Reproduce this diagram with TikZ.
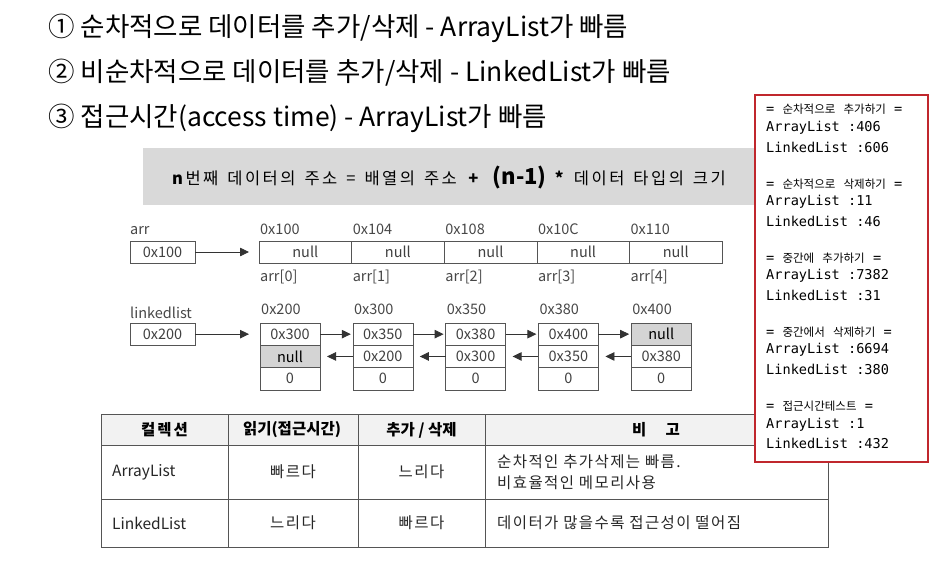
\documentclass[tikz,border=0pt]{standalone}
\usepackage{fontspec}
\setmainfont{Noto Sans CJK KR}
\newfontfamily\consolefont{DejaVu Sans Mono}
\newfontfamily\korfont{Noto Sans CJK KR}
\usetikzlibrary{positioning,arrows.meta}

\definecolor{bandgray}{HTML}{D9D9D9}
\definecolor{headgray}{HTML}{F2F2F2}
\definecolor{nullgray}{HTML}{D4D4D4}
\definecolor{linegray}{HTML}{555555}
\definecolor{consolered}{HTML}{C0272D}

% korean words inside the console lines
\newcommand\kor[1]{{\korfont\fontsize{11.5}{11.5}\selectfont #1}}

\tikzset{
  headline/.style={anchor=west, inner sep=0pt, font=\fontsize{26.5}{26.5}\selectfont},
  formula/.style={inner sep=0pt, font=\fontsize{16.5}{17}\selectfont\addfontfeature{LetterSpace=15}},
  cell/.style={rectangle, draw=linegray, minimum width=92.6pt, minimum height=22pt, inner sep=0pt, outer sep=0pt, font=\fontsize{14.5}{14.5}\selectfont, text=black!75},
  ptr/.style={cell, minimum width=65pt},
  slot/.style={cell, minimum width=60pt, minimum height=22.3pt},
  nullslot/.style={slot, fill=nullgray, text=black},
  addr/.style={inner sep=0pt, font=\fontsize{14.5}{14.5}\selectfont, text=black!72},
  link/.style={-{Triangle[length=9pt,width=8.5pt]}, draw=black!80, line width=0.8pt},
  grid/.style={draw=linegray, line width=0.9pt},
  tabtext/.style={inner sep=0pt, font=\fontsize{15.5}{20}\selectfont, text=black!85},
  spaced/.style={tabtext, font=\fontsize{15.5}{21}\selectfont\addfontfeature{LetterSpace=9}},
  tabhead/.style={tabtext, font=\fontsize{15.5}{15.5}\selectfont\bfseries, text=black},
  console/.style={rectangle, draw=consolered, line width=1.1pt, fill=white, minimum width=173pt, minimum height=367pt, inner sep=0pt},
  logline/.style={anchor=west, inner sep=0pt, font=\consolefont\fontsize{13.6}{13.6}\selectfont},
}

\begin{document}
\begin{tikzpicture}[x=1pt, y=-1pt]
  \useasboundingbox (0,0) rectangle (951,560);

  % three remarks on top
  \node[headline] (line1) at (48,28)  {① 순차적으로 데이터를 추가/삭제 - ArrayList가 빠름};
  \node[headline] (line2) at (48,73)  {② 비순차적으로 데이터를 추가/삭제 - LinkedList가 빠름};
  \node[headline] (line3) at (48,118) {③ 접근시간(access time) - ArrayList가 빠름};

  % address rule
  \fill[bandgray] (143,148) rectangle (770,205);
  \node[formula] (rule) at (449,178) {\textbf{n}번째\hspace{9pt}데이터의\hspace{9pt}주소\hspace{9pt}=\hspace{9pt}배열의\hspace{9pt}주소\hspace{9pt}\textbf{+}\hspace{12pt}{\fontsize{22}{22}\selectfont\bfseries\addfontfeature{LetterSpace=0}(n-1)}\hspace{8pt}\textbf{*}\hspace{8pt}데이터\hspace{9pt}타입의\hspace{9pt}크기};

  % array
  \node[ptr] (arr) at (162.5,252) {0x100};
  \node[addr, above right=6pt and 0pt of arr.north west] (arrname) {arr};
  \node[cell] (a0) at (305.3,252) {null};
  \node[cell, right=0pt of a0] (a1) {null};
  \node[cell, right=0pt of a1] (a2) {null};
  \node[cell, right=0pt of a2] (a3) {null};
  \node[cell, right=0pt of a3] (a4) {null};
  \node[addr, above right=6pt and 1pt of a0.north west] (a0addr) {0x100};
  \node[addr, above right=6pt and 1pt of a1.north west] (a1addr) {0x104};
  \node[addr, above right=6pt and 1pt of a2.north west] (a2addr) {0x108};
  \node[addr, above right=6pt and 1pt of a3.north west] (a3addr) {0x10C};
  \node[addr, above right=6pt and 1pt of a4.north west] (a4addr) {0x110};
  \node[addr, below right=7pt and 1pt of a0.south west] (a0idx) {arr[0]};
  \node[addr, below right=7pt and 1pt of a1.south west] (a1idx) {arr[1]};
  \node[addr, below right=7pt and 1pt of a2.south west] (a2idx) {arr[2]};
  \node[addr, below right=7pt and 1pt of a3.south west] (a3idx) {arr[3]};
  \node[addr, below right=7pt and 1pt of a4.south west] (a4idx) {arr[4]};
  \draw[link, shorten >=10pt] (arr) -- (a0);

  % linked list
  \node[ptr, minimum height=22.3pt] (head) at (162.5,334.15) {0x200};
  \node[addr, above right=4pt and 0pt of head.north west] (headname) {linkedlist};

  \node[slot] (n0next) at (290,334.15) {0x300};
  \node[nullslot, below=0pt of n0next] (n0prev) {null};
  \node[slot, below=0pt of n0prev] (n0val) {0};
  \node[slot, right=32.8pt of n0next] (n1next) {0x350};
  \node[slot, below=0pt of n1next] (n1prev) {0x200};
  \node[slot, below=0pt of n1prev] (n1val) {0};
  \node[slot, right=32.8pt of n1next] (n2next) {0x380};
  \node[slot, below=0pt of n2next] (n2prev) {0x300};
  \node[slot, below=0pt of n2prev] (n2val) {0};
  \node[slot, right=32.8pt of n2next] (n3next) {0x400};
  \node[slot, below=0pt of n3next] (n3prev) {0x350};
  \node[slot, below=0pt of n3prev] (n3val) {0};
  \node[nullslot, right=32.8pt of n3next] (n4next) {null};
  \node[slot, below=0pt of n4next] (n4prev) {0x380};
  \node[slot, below=0pt of n4prev] (n4val) {0};

  \node[addr, above right=8pt and 1pt of n0next.north west] (n0addr) {0x200};
  \node[addr, above right=8pt and 1pt of n1next.north west] (n1addr) {0x300};
  \node[addr, above right=8pt and 1pt of n2next.north west] (n2addr) {0x350};
  \node[addr, above right=8pt and 1pt of n3next.north west] (n3addr) {0x380};
  \node[addr, above right=8pt and 1pt of n4next.north west] (n4addr) {0x400};

  \draw[link, shorten >=11pt] (head) -- (n0next);
  \draw[link, shorten >=2pt] (n0next) -- (n1next);
  \draw[link, shorten >=2pt] (n1next) -- (n2next);
  \draw[link, shorten >=2pt] (n2next) -- (n3next);
  \draw[link, shorten >=2pt] (n3next) -- (n4next);
  \draw[link, shorten >=7pt] (n1prev) -- (n0prev);
  \draw[link, shorten >=7pt] (n2prev) -- (n1prev);
  \draw[link, shorten >=7pt] (n3prev) -- (n2prev);
  \draw[link, shorten >=7pt] (n4prev) -- (n3prev);

  % comparison table
  \fill[headgray] (101,414) rectangle (828,445);
  \draw[grid] (101,414) rectangle (828,547);
  \draw[grid] (101,445) -- (828,445);
  \draw[grid] (101,499) -- (828,499);
  \draw[grid] (228,414) -- (228,547);
  \draw[grid] (358,414) -- (358,547);
  \draw[grid] (485,414) -- (485,547);

  \node[tabhead] (th1) at (164.5,430) {컬\hspace{2pt}렉\hspace{2pt}션};
  \node[tabhead] (th2) at (292,430)   {읽기(접근시간)};
  \node[tabhead] (th3) at (421.5,430) {추가 / 삭제};
  \node[tabhead] (th4) at (656,430)   {비 \quad 고};
  \node[tabtext, anchor=west] (r1c1) at (112,472) {ArrayList};
  \node[spaced] (r1c2) at (293,472)   {빠르다};
  \node[spaced] (r1c3) at (421.5,472) {느리다};
  \node[spaced, anchor=west, align=left] (r1c4) at (497,472) {순차적인 추가삭제는 빠름.\\비효율적인 메모리사용};
  \node[tabtext, anchor=west] (r2c1) at (112,523) {LinkedList};
  \node[spaced] (r2c2) at (293,523)   {느리다};
  \node[spaced] (r2c3) at (421.5,523) {빠르다};
  \node[spaced, anchor=west] (r2c4) at (497,523) {데이터가 많을수록 접근성이 떨어짐};

  % console output
  \node[console] (log) at (841.5,278.5) {};
  \node[logline] (log1)  at (766,109) {= \kor{순차적으로} \kor{추가하기} =};
  \node[logline] (log2)  at (766,128) {ArrayList :406};
  \node[logline] (log3)  at (766,147) {LinkedList :606};
  \node[logline] (log4)  at (766,184) {= \kor{순차적으로} \kor{삭제하기} =};
  \node[logline] (log5)  at (766,202) {ArrayList :11};
  \node[logline] (log6)  at (766,221) {LinkedList :46};
  \node[logline] (log7)  at (766,258) {= \kor{중간에} \kor{추가하기} =};
  \node[logline] (log8)  at (766,276) {ArrayList :7382};
  \node[logline] (log9)  at (766,295) {LinkedList :31};
  \node[logline] (log10) at (766,332) {= \kor{중간에서} \kor{삭제하기} =};
  \node[logline] (log11) at (766,350) {ArrayList :6694};
  \node[logline] (log12) at (766,369) {LinkedList :380};
  \node[logline] (log13) at (766,406) {= \kor{접근시간테스트} =};
  \node[logline] (log14) at (766,425) {ArrayList :1};
  \node[logline] (log15) at (766,443) {LinkedList :432};
\end{tikzpicture}
\end{document}
